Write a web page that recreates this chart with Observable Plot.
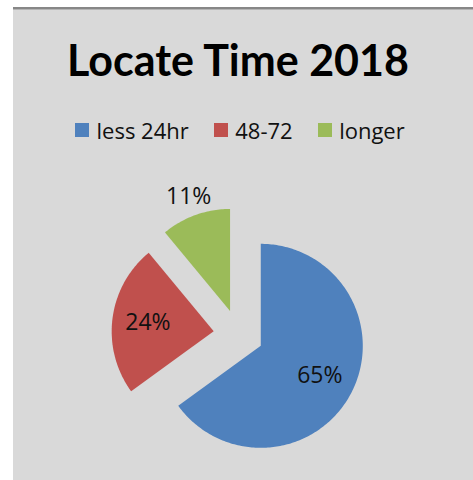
<!DOCTYPE html>
<html>
<head>
<meta charset="utf-8">
<script src="https://cdn.jsdelivr.net/npm/d3@7"></script>
<script src="https://cdn.jsdelivr.net/npm/@observablehq/plot@0.6"></script>
<style>
  html, body { margin: 0; padding: 0; background: #ffffff; }
  #wrap { position: relative; width: 473px; height: 480px; overflow: hidden; }
  #bg { position: absolute; left: 13px; top: 7px; width: 460px; height: 473px;
        background: #d9d9d9; border-top: 2px solid #878787; box-sizing: border-box; }
  #bg2 { position: absolute; left: 13px; top: 9px; width: 460px; height: 1px; background: #b4b4b4; }
  #chart { position: absolute; left: 0; top: 0; }
  #legend { position: absolute; left: 75px; top: 113.5px; }
  .lg-swatches { margin-bottom: 0 !important; }
  .lg-swatch { margin-right: 25px !important; }
  .lg-swatch > svg { margin-right: 7.5px !important; }
</style>
</head>
<body>
<div id="wrap">
  <div id="bg"></div>
  <div id="bg2"></div>
  <div id="chart"></div>
  <div id="legend"></div>
</div>
<script>
// ---- data ----
const title = "Locate Time 2018";
const categories = ["less 24hr", "48-72", "longer"];
const values = [65, 24, 11];
const colors = ["#4f81bd", "#c0504d", "#9bbb59"];

// ---- layout ----
const W = 473, H = 480;
const cx = 238, cy = 334, R = 102, explode = 25;

const data = categories.map((c, i) => ({category: c, value: values[i]}));
const total = d3.sum(values);
const arcs = d3.pie().sort(null).value(d => d.value).startAngle(0).endAngle(2 * Math.PI)(data);

const slicePts = [];
const labels = [];
arcs.forEach(a => {
  const mid = (a.startAngle + a.endAngle) / 2;
  const ax = cx + explode * Math.sin(mid);
  const ay = cy - explode * Math.cos(mid);
  const cat = a.data.category;
  slicePts.push({category: cat, x: ax, y: ay});
  const n = Math.max(2, Math.ceil((a.endAngle - a.startAngle) / (Math.PI / 180)));
  for (let k = 0; k <= n; k++) {
    const t = a.startAngle + (a.endAngle - a.startAngle) * k / n;
    slicePts.push({category: cat, x: ax + R * Math.sin(t), y: ay - R * Math.cos(t)});
  }
  slicePts.push({category: cat, x: ax, y: ay});
  const share = a.data.value / total;
  const dist = share < 0.15 ? R + 20 : R * 0.65;
  labels.push({
    text: Math.round(share * 100) + "%",
    x: ax + dist * Math.sin(mid),
    y: ay - dist * Math.cos(mid)
  });
});

const colorScale = {domain: categories, range: colors};

const chart = Plot.plot({
  width: W,
  height: H,
  margin: 0,
  x: {domain: [0, W], range: [0, W], axis: null},
  y: {domain: [0, H], range: [0, H], axis: null},
  color: colorScale,
  style: {background: "transparent", overflow: "visible"},
  marks: [
    Plot.line(slicePts, {x: "x", y: "y", z: "category", fill: "category", stroke: null, curve: "linear-closed"}),
    Plot.text(labels, {x: "x", y: "y", text: "text", fontSize: 23, fill: "#111111",
      fontFamily: "'Open Sans', sans-serif", textAnchor: "middle", lineAnchor: "middle"}),
    Plot.text([title], {frameAnchor: "top", x: () => 237.5, y: () => 75, text: d => d,
      fontSize: 43, fontWeight: "bold", fill: "#000000",
      fontFamily: "Lato, 'Open Sans', sans-serif", textAnchor: "middle", lineAnchor: "bottom"})
  ]
});
document.getElementById("chart").appendChild(chart);

const legend = Plot.legend({
  color: colorScale,
  legend: "swatches",
  swatchSize: 14,
  className: "lg",
  style: {fontFamily: "'Open Sans', sans-serif", fontSize: "22px", color: "#111111"}
});
document.getElementById("legend").appendChild(legend);
</script>
</body>
</html>
